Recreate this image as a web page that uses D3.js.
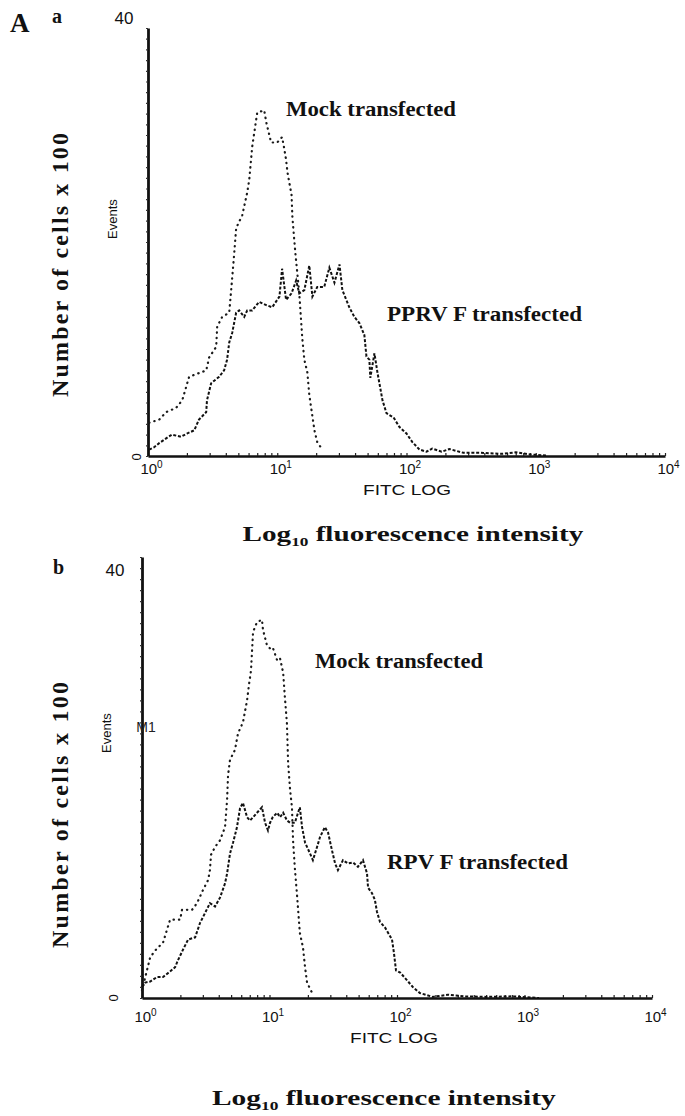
<!DOCTYPE html>
<html>
<head>
<meta charset="utf-8">
<script src="https://cdn.jsdelivr.net/npm/d3@7"></script>
<style>
  body { margin: 0; background: #fff; }
  svg { display: block; }
</style>
</head>
<body>
<div id="chart"></div>
<script>
/* DATA */

const decades = [1, 10, 100, 1000, 10000];
const countLabels = [0, 40];

// panel a : mock transfected (dotted)
const mockA_fitc = [1.02, 1.22, 1.38, 1.65, 1.84, 2.08, 2.82, 2.97, 3.37, 3.43, 3.75, 4.25, 4.40, 4.65, 4.81,
  5.36, 5.85, 6.07, 6.40, 7.0, 7.93, 8.22, 8.97, 10.0, 10.9, 11.3, 11.7, 12.0, 12.9, 13.1,
  13.8, 14.8, 15.6, 16.2, 17.1, 17.7, 19.4, 20.4, 22.3];
const mockA_count = [3.1, 3.4, 4.1, 4.5, 5.2, 7.4, 8.0, 9.2, 10.2, 12.1, 13.0, 13.4, 15.5, 19.0, 21.3,
  22.5, 24.6, 25.8, 28.9, 32.1, 32.3, 31.2, 29.3, 29.3, 29.8, 28.8, 27.7, 26.5, 24.4, 22.3,
  19.0, 15.2, 11.1, 9.0, 7.8, 5.7, 2.4, 1.3, 0.6];

// panel a : PPRV F transfected (dashed)
const pprvA_fitc = [1.02, 1.11, 1.22, 1.40, 1.53, 1.80, 2.00, 2.28, 2.48, 2.82, 2.86, 3.08, 3.55, 3.88, 4.09,
  4.25, 4.48, 4.81, 5.07, 5.55, 5.85, 6.40, 7.24, 8.22, 9.14, 10.4, 10.9, 11.7, 12.9, 14.0,
  14.8, 16.2, 17.7, 18.7, 20.4, 23.1, 25.3, 27.7, 30.3, 31.9, 36.1, 39.5, 43.3, 47.2, 49.0,
  51.6, 52.5, 56.5, 59.6, 65.2, 70.0, 79.4, 88.3, 100, 111, 126, 143, 158, 187, 215,
  275, 375, 555, 700, 900, 1200];
const pprvA_count = [0.6, 0.8, 1.2, 1.7, 2.0, 1.8, 2.1, 2.4, 3.4, 4.1, 5.2, 6.8, 7.4, 8.0, 9.0,
  10.6, 11.5, 13.4, 13.6, 13.0, 13.6, 13.6, 14.4, 14.1, 13.9, 14.9, 17.5, 14.6, 15.2, 16.4,
  15.2, 15.5, 17.8, 14.9, 15.8, 15.8, 17.6, 16.2, 17.9, 15.5, 13.9, 13.0, 12.4, 11.3, 9.3,
  9.0, 7.3, 9.6, 7.8, 5.2, 4.0, 3.6, 2.7, 2.1, 1.3, 0.6, 0.4, 0.7, 0.4, 0.65,
  0.3, 0.3, 0.2, 0.35, 0.15, 0.05];

// panel b : mock transfected (dotted)
const mockB_fitc = [1.0, 1.16, 1.31, 1.46, 1.66, 1.99, 2.06, 2.47, 2.70, 3.01, 3.30, 3.41, 3.48, 3.74, 4.09,
  4.48, 4.65, 4.73, 4.90, 5.36, 5.66, 6.19, 6.67, 6.90, 7.16, 7.43, 7.98, 8.73, 8.89, 9.55,
  10.1, 10.6, 11.5, 12.1, 12.8, 13.2, 13.7, 14.0, 14.5, 15.0, 15.3, 15.8, 16.4, 17.3, 18.3,
  19.0, 19.7, 21.5];
const mockB_count = [0.7, 3.7, 4.5, 5.0, 7.1, 7.1, 8.0, 8.0, 8.6, 9.8, 10.7, 11.6, 13.0, 13.7, 14.3,
  15.5, 18.0, 20.2, 21.6, 22.5, 24.0, 25.0, 27.0, 28.4, 29.7, 33.2, 34.1, 34.3, 33.4, 32.0,
  31.7, 31.8, 30.6, 30.8, 29.5, 27.3, 24.9, 21.3, 18.9, 17.3, 14.3, 11.8, 9.5, 5.9, 4.6,
  2.8, 1.4, 0.5];

// panel b : RPV F transfected (dashed)
const rpvB_fitc = [1.0, 1.06, 1.16, 1.31, 1.46, 1.66, 1.82, 1.91, 2.10, 2.30, 2.61, 2.85, 3.12, 3.41, 3.74,
  4.09, 4.48, 4.65, 4.90, 5.18, 5.56, 5.87, 6.19, 6.67, 7.03, 7.43, 7.98, 8.73, 9.23, 9.73,
  10.1, 10.6, 11.5, 12.1, 12.8, 13.7, 14.5, 15.8, 17.3, 18.0, 19.0, 20.8, 21.9, 23.6, 24.9,
  27.2, 28.8, 30.9, 32.7, 34.4, 37.7, 41.3, 45.2, 49.4, 54.1, 58.2, 59.3, 63.7, 67.1, 69.7,
  73.6, 80.5, 91.4, 94.6, 98.2, 106, 120, 133, 151, 191, 250, 335, 500, 800, 1300];
const rpvB_count = [1.0, 1.4, 1.5, 1.9, 1.9, 2.4, 2.8, 3.4, 4.4, 5.3, 5.5, 6.8, 7.7, 8.6, 8.3,
  9.1, 10.4, 11.3, 13.1, 14.1, 15.5, 17.2, 17.7, 16.4, 16.1, 16.4, 16.8, 17.3, 15.9, 15.2,
  15.9, 16.4, 16.8, 16.4, 16.8, 16.1, 15.9, 15.9, 17.3, 15.5, 14.1, 13.1, 12.5, 13.7, 14.6,
  15.5, 15.0, 13.4, 12.2, 11.6, 12.5, 12.2, 12.3, 11.9, 12.5, 11.3, 10.0, 9.5, 8.9, 7.8,
  6.9, 6.4, 5.3, 4.1, 2.5, 2.3, 1.6, 1.0, 0.45, 0.1, 0.3, 0.15, 0.1, 0.15, 0.0];

/* LAYOUT */
const W = 685, H = 1116;
const serif = "'Liberation Serif', 'DejaVu Serif', serif";
const sans = "'Liberation Sans', Arial, sans-serif";

const panels = [
  {
    letter: "a", letterPos: [52, 23],
    xRange: [148, 665], yRange: [456, 28],
    top40Dy: -4, top40X: 124,
    zeroPos: [141, 457],
    eventsPos: [117, 219],
    ylabel: { x: 60, y: 265, len: 264 },
    tickLabelY: 474,
    fitcPos: [407, 495],
    logLabel: { x: 413, y: 541, len: 341 },
    series: [
      { fitc: mockA_fitc, count: mockA_count, kind: "mock" },
      { fitc: pprvA_fitc, count: pprvA_count, kind: "f" }
    ],
    notes: [
      { text: "Mock transfected", x: 286, y: 116, len: 170 },
      { text: "PPRV F transfected", x: 387, y: 321, len: 195 }
    ],
    marker: null
  },
  {
    letter: "b", letterPos: [53, 574],
    xRange: [142, 652], yRange: [998, 557],
    top40Dy: 19, top40X: 115,
    zeroPos: [118, 998],
    eventsPos: [111, 733],
    ylabel: { x: 60, y: 815, len: 266 },
    tickLabelY: 1022,
    fitcPos: [394, 1043],
    logLabel: { x: 384, y: 1105, len: 344 },
    series: [
      { fitc: mockB_fitc, count: mockB_count, kind: "mock" },
      { fitc: rpvB_fitc, count: rpvB_count, kind: "f" }
    ],
    notes: [
      { text: "Mock transfected", x: 315, y: 668, len: 168 },
      { text: "RPV F transfected", x: 387, y: 869, len: 181 }
    ],
    marker: { text: "M1", x: 146, y: 732 }
  }
];

const svg = d3.select("#chart").append("svg")
  .attr("width", W)
  .attr("height", H)
  .style("background", "#fff");

// big "A"
svg.append("text")
  .attr("x", 10).attr("y", 32)
  .attr("font-family", serif)
  .attr("font-weight", "bold")
  .attr("font-size", 27)
  .attr("fill", "#111")
  .text("A");

// minor log ticks 1..9 per decade
const minorTicks = [];
decades.slice(0, -1).forEach(d => {
  for (let k = 1; k < 10; k++) minorTicks.push(d * k);
});
minorTicks.push(10000);

const supDigits = { 1: "0", 10: "1", 100: "2", 1000: "3", 10000: "4" };

panels.forEach(p => {
  const g = svg.append("g");

  const x = d3.scaleLog().domain([1, 10000]).range(p.xRange);
  const y = d3.scaleLinear().domain([0, 40]).range(p.yRange);

  // x axis
  const xAxis = d3.axisBottom(x)
    .tickValues(minorTicks)
    .tickSizeInner(-3)
    .tickSizeOuter(0)
    .tickPadding(0)
    .tickFormat(d => decades.includes(d) ? "10" : "");

  const gx = g.append("g")
    .attr("transform", `translate(0,${p.yRange[0]})`)
    .call(xAxis);
  gx.select(".domain").attr("stroke", "#111").attr("stroke-width", 2.4);
  gx.selectAll(".tick line").attr("stroke", "#222").attr("stroke-width", 1.2);
  gx.selectAll(".tick text")
    .attr("y", p.tickLabelY - p.yRange[0])
    .attr("dy", 0)
    .attr("x", 3)
    .attr("font-family", sans)
    .attr("font-size", 15)
    .attr("fill", "#111")
    .each(function (d) {
      if (!decades.includes(d)) return;
      d3.select(this).append("tspan")
        .attr("dy", -6)
        .attr("font-size", 10)
        .text(supDigits[d]);
    });

  // y axis
  const yAxis = d3.axisLeft(y)
    .tickValues(d3.range(0, 41, 1))
    .tickSizeInner(2)
    .tickSizeOuter(0)
    .tickFormat("");
  const gy = g.append("g")
    .attr("transform", `translate(${p.xRange[0]},0)`)
    .call(yAxis);
  gy.select(".domain").attr("stroke", "#111").attr("stroke-width", 2.8);
  gy.selectAll(".tick line").attr("stroke", "#333").attr("stroke-width", 1.2);

  // count labels 40 and 0
  g.append("text")
    .attr("x", p.top40X)
    .attr("y", y(countLabels[1]) + p.top40Dy)
    .attr("text-anchor", "middle")
    .attr("font-family", sans)
    .attr("font-size", 17)
    .attr("fill", "#111")
    .text(countLabels[1]);
  g.append("text")
    .attr("transform", `translate(${p.zeroPos[0]},${p.zeroPos[1]}) rotate(-90)`)
    .attr("text-anchor", "middle")
    .attr("font-family", sans)
    .attr("font-size", 13)
    .attr("fill", "#111")
    .text(countLabels[0]);

  // panel letter
  g.append("text")
    .attr("x", p.letterPos[0]).attr("y", p.letterPos[1])
    .attr("font-family", serif)
    .attr("font-weight", "bold")
    .attr("font-size", 20)
    .attr("fill", "#111")
    .text(p.letter);

  // "Events"
  g.append("text")
    .attr("transform", `translate(${p.eventsPos[0]},${p.eventsPos[1]}) rotate(-90)`)
    .attr("text-anchor", "middle")
    .attr("font-family", sans)
    .attr("font-size", 13)
    .attr("fill", "#111")
    .text("Events");

  // outer y label
  g.append("text")
    .attr("transform", `translate(${p.ylabel.x + 8},${p.ylabel.y}) rotate(-90)`)
    .attr("text-anchor", "middle")
    .attr("font-family", serif)
    .attr("font-weight", "bold")
    .attr("font-size", 24)
    .attr("textLength", p.ylabel.len)
    .attr("lengthAdjust", "spacing")
    .attr("fill", "#111")
    .text("Number of cells x 100");

  // FITC LOG
  g.append("text")
    .attr("x", p.fitcPos[0]).attr("y", p.fitcPos[1])
    .attr("text-anchor", "middle")
    .attr("font-family", sans)
    .attr("font-size", 15)
    .attr("textLength", 88)
    .attr("lengthAdjust", "spacingAndGlyphs")
    .attr("fill", "#111")
    .text("FITC LOG");

  // Log10 fluorescence intensity
  const lt = g.append("text")
    .attr("x", p.logLabel.x - p.logLabel.len / 2)
    .attr("y", p.logLabel.y)
    .attr("font-family", serif)
    .attr("font-weight", "bold")
    .attr("font-size", 22)
    .attr("fill", "#111");
  lt.append("tspan").text("Log");
  lt.append("tspan").attr("dy", 5).attr("font-size", 13).text("10");
  lt.append("tspan").attr("dy", -5).text(" fluorescence intensity");
  const bb = lt.node().getComputedTextLength();
  const x0 = p.logLabel.x - p.logLabel.len / 2;
  lt.attr("transform", `translate(${x0},0) scale(${p.logLabel.len / bb},1) translate(${-x0},0)`);

  // curves
  const line = d3.line()
    .x(d => x(d[0]))
    .y(d => y(d[1]));

  p.series.forEach(s => {
    const pts = d3.zip(s.fitc, s.count);
    g.append("path")
      .datum(pts)
      .attr("d", line)
      .attr("fill", "none")
      .attr("stroke", s.kind === "mock" ? "#1a1a1a" : "#111")
      .attr("stroke-width", s.kind === "mock" ? 2.2 : 2)
      .attr("stroke-linecap", s.kind === "mock" ? "round" : "butt")
      .attr("stroke-dasharray", s.kind === "mock" ? "0.4,5" : "3,1.8");
  });

  // curve labels
  p.notes.forEach(n => {
    g.append("text")
      .attr("x", n.x).attr("y", n.y)
      .attr("font-family", serif)
      .attr("font-weight", "bold")
      .attr("font-size", 20)
      .attr("textLength", n.len)
      .attr("lengthAdjust", "spacingAndGlyphs")
      .attr("fill", "#111")
      .text(n.text);
  });

  if (p.marker) {
    g.append("text")
      .attr("x", p.marker.x).attr("y", p.marker.y)
      .attr("text-anchor", "middle")
      .attr("font-family", sans)
      .attr("font-size", 14)
      .attr("fill", "#222")
      .text(p.marker.text);
  }
});
</script>
</body>
</html>
